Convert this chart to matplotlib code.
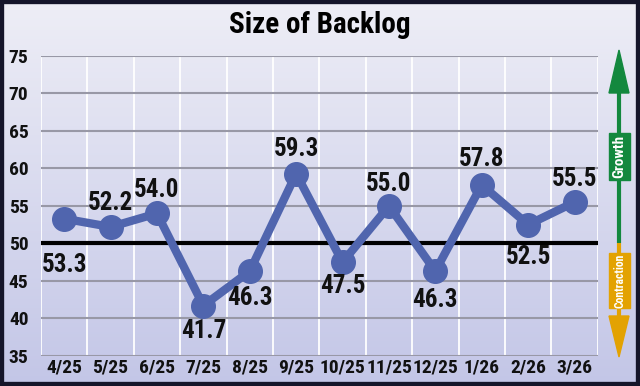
import numpy as np
import matplotlib
matplotlib.use('Agg')
import matplotlib.pyplot as plt
from matplotlib import font_manager as fm
from matplotlib.patches import Rectangle
from matplotlib.colors import LinearSegmentedColormap

# pick a condensed font if there is one
have = set(f.name for f in fm.fontManager.ttflist)
fam = 'DejaVu Sans'
for cand in ['Roboto Condensed', 'Archivo Narrow', 'Liberation Sans Narrow', 'Arial Narrow', 'DejaVu Sans Condensed']:
    if cand in have:
        fam = cand
        break
plt.rcParams['font.family'] = [fam, 'DejaVu Sans']

months = ['4/25', '5/25', '6/25', '7/25', '8/25', '9/25', '10/25', '11/25', '12/25', '1/26', '2/26', '3/26']
backlog = [53.3, 52.2, 54.0, 41.7, 46.3, 59.3, 47.5, 55.0, 46.3, 57.8, 52.5, 55.5]

# vertical offset of each value label from its point, pixels (+ above)
label_dy = [-46, 24, 23, -25, -27, 25, -24, 22, -29, 26, -32, 23]

fig = plt.figure(figsize=(6.4, 3.86), dpi=100)

# background gradient
bg = fig.add_axes([0, 0, 1, 1], zorder=-10)
grad = np.linspace(0, 1, 256).reshape(-1, 1)
cmap = LinearSegmentedColormap.from_list('bg', ['#eeeef6', '#c3c6e7'])
bg.imshow(grad, aspect='auto', cmap=cmap, extent=[0, 1, 0, 1])
bg.set_xlim(0, 1)
bg.set_ylim(0, 1)
bg.axis('off')
fig.patches.append(Rectangle((0, 0), 1, 1, transform=fig.transFigure, fill=False,
                             edgecolor='#15152a', linewidth=6, zorder=10))

ax = fig.add_axes([0.064, 0.078, 0.870, 0.777])
ax.patch.set_alpha(0)
x = np.arange(len(months))
ax.set_xlim(-0.5, len(months) - 0.5)
ax.set_ylim(35, 75)

for yy in range(35, 80, 5):
    if yy != 50:
        ax.axhline(yy, color='#9898a6', lw=1.5, zorder=1)
for xx in np.arange(-0.5, len(months), 1):
    ax.axvline(xx, color='white', lw=1.3, zorder=0.5)
ax.axhline(50, color='black', lw=3, zorder=2)

ax.plot(x, backlog, color='#5065ae', lw=6, marker='o', markersize=17, zorder=3)

for xi, v, dy in zip(x, backlog, label_dy):
    ax.annotate(f'{v:.1f}', (xi, v), xytext=(0, dy), textcoords='offset pixels',
                ha='center', va='center', fontsize=18, fontweight='bold',
                color='#111111', zorder=4)

ax.set_xticks(x)
ax.set_xticklabels(months)
ax.set_yticks(range(35, 80, 5))
ax.tick_params(length=0, labelsize=14)
ax.tick_params(axis='x', pad=2)
ax.tick_params(axis='y', pad=9)
for lab in ax.get_xticklabels() + ax.get_yticklabels():
    lab.set_fontweight('bold')
    lab.set_color('#111111')
for sp in ax.spines.values():
    sp.set_visible(False)

fig.text(0.5, 0.935, 'Size of Backlog', ha='center', va='center', fontsize=21,
         fontweight='bold', color='black')

# growth / contraction arrow at right
ar = fig.add_axes([0, 0, 1, 1], zorder=5)
ar.set_xlim(0, 640)
ar.set_ylim(386, 0)
ar.axis('off')
green = '#13883e'
orange = '#e3a202'
ar.plot([619, 619], [85, 243], color=green, lw=3, solid_capstyle='butt')
ar.add_patch(plt.Polygon([[609, 93], [629, 93], [619, 50]], color=green))
ar.plot([619, 619], [243, 320], color=orange, lw=3, solid_capstyle='butt')
ar.add_patch(plt.Polygon([[609, 316], [629, 316], [619, 357]], color=orange))
ar.add_patch(Rectangle((609, 133), 21, 47, color=green))
ar.add_patch(Rectangle((609, 253), 21, 55, color=orange))
ar.text(619.5, 156.5, 'Growth', rotation=90, ha='center', va='center', color='white',
        fontsize=11, fontweight='bold')
ar.text(619.5, 280.5, 'Contraction', rotation=90, ha='center', va='center', color='white',
        fontsize=8.5, fontweight='bold')

fig.savefig('out.png', dpi=100)
